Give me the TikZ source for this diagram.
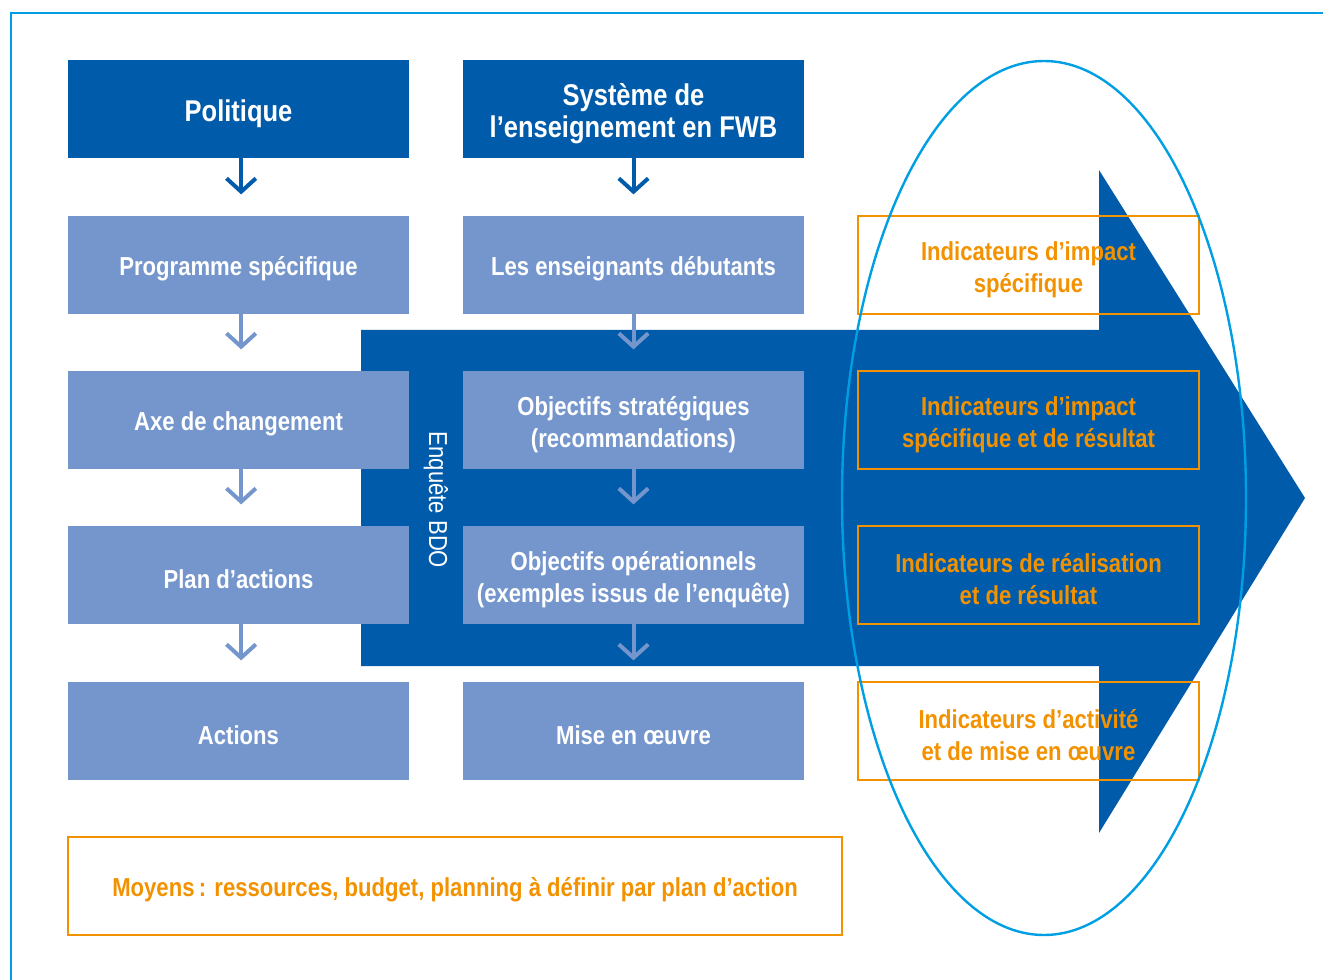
\documentclass[tikz,border=0pt]{standalone}
\usepackage{fontspec}
\setmainfont{Liberation Sans}[FakeStretch=0.85]
\usetikzlibrary{arrows.meta}
\definecolor{dblue}{RGB}{0,91,170}
\definecolor{lblue}{RGB}{116,150,204}
\definecolor{orng}{RGB}{243,146,0}
\definecolor{cyanl}{RGB}{0,159,227}
\tikzset{
  box/.style={minimum width=255.75pt, minimum height=73.5pt, inner sep=0pt, align=center, text=white,
    font=\bfseries\fontsize{19.5}{24}\selectfont, execute at begin node={\rule{0pt}{20.5pt}}},
  topbox/.style={box, fill=dblue, font=\bfseries\fontsize{22.5}{24}\selectfont,
    execute at begin node={\rule{0pt}{23.5pt}}},
  lbox/.style={box, fill=lblue},
  obox/.style={box, draw=orng, line width=2pt, text=orng},
  twoline/.style={execute at begin node={\rule{0pt}{45pt}}},
  twotop/.style={execute at begin node={\rule{0pt}{48pt}}},
  arr/.style={line width=3pt, -{Straight Barb[length=10pt,width=22pt]}, shorten >=16pt},
  darr/.style={arr, draw=dblue},
  larr/.style={arr, draw=lblue},
}
\begin{document}
\begin{tikzpicture}[x=0.75pt,y=-0.75pt]
\useasboundingbox (0,0) rectangle (1323,980);
% frame
\draw[cyanl, line width=1.5pt] (11,980) -- (11,13) -- (1323,13);
% big arrow
\fill[dblue] (361,330) -- (1099,330) -- (1099,170) -- (1305,498) -- (1099,833) -- (1099,666) -- (361,666) -- cycle;
\node[rotate=-90, text=white, font=\fontsize{19.5}{24}\selectfont] (bdo) at (436,500) {Enquête BDO};
% column 1
\node[topbox] (pol) at (238.5,109) {Politique};
\node[lbox] (prog) at (238.5,265) {Programme spécifique};
\node[lbox] (axe) at (238.5,420) {Axe de changement};
\node[lbox] (plan) at (238.5,575) {Plan d’actions};
\node[lbox] (act) at (238.5,731) {Actions};
% column 2
\node[topbox, twotop] (sys) at (633.5,109) {Système de\\l’enseignement en FWB};
\node[lbox] (ens) at (633.5,265) {Les enseignants débutants};
\node[lbox, twoline] (ostr) at (633.5,420) {Objectifs stratégiques\\(recommandations)};
\node[lbox, twoline] (oop) at (633.5,575) {Objectifs opérationnels\\(exemples issus de l’enquête)};
\node[lbox] (mise) at (633.5,731) {Mise en œuvre};
% indicators
\node[obox, twoline] (i1) at (1028.5,265) {Indicateurs d’impact\\spécifique};
\node[obox, twoline] (i2) at (1028.5,420) {Indicateurs d’impact\\spécifique et de résultat};
\node[obox, twoline] (i3) at (1028.5,575) {Indicateurs de réalisation\\et de résultat};
\node[obox, twoline] (i4) at (1028.5,731) {Indicateurs d’activité\\et de mise en œuvre};
% means
\node[obox, minimum width=580.5pt] (moy) at (455,886) {Moyens\,: ressources, budget, planning à définir par plan d’action};
% arrows
\draw[darr] ([xshift=2pt]pol.south) -- ([xshift=2pt]prog.north);
\draw[darr] (sys) -- (ens);
\draw[larr] ([xshift=2pt]prog.south) -- ([xshift=2pt]axe.north);
\draw[larr] ([xshift=2pt]axe.south) -- ([xshift=2pt]plan.north);
\draw[larr] ([xshift=2pt]plan.south) -- ([xshift=2pt]act.north);
\draw[larr] (ens) -- (ostr);
\draw[larr] (ostr) -- (oop);
\draw[larr] (oop) -- (mise);
% ellipse
\draw[cyanl, line width=1.8pt] (1044,498) ellipse [x radius=202, y radius=437];
\end{tikzpicture}
\end{document}
